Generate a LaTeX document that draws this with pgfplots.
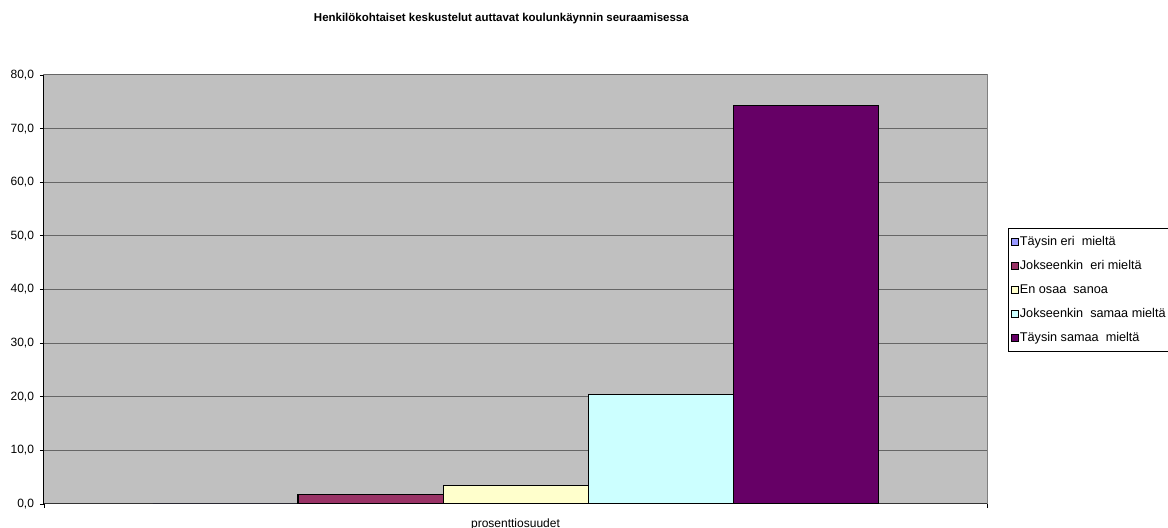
\documentclass[border=0pt]{standalone}
\usepackage{fontspec}
\setmainfont{Liberation Sans}
\usepackage{pgfplots}
\pgfplotsset{compat=1.18}
\definecolor{plotbg}{HTML}{C0C0C0}
\definecolor{cA}{HTML}{9999FF}
\definecolor{cB}{HTML}{993366}
\definecolor{cC}{HTML}{FFFFCC}
\definecolor{cD}{HTML}{CCFFFF}
\definecolor{cE}{HTML}{660066}
\newcommand{\chartfont}{\fontsize{9}{10}\selectfont}
\begin{document}
\begin{tikzpicture}
\begin{axis}[
    name=ax,
    scale only axis,
    width=707.25pt, height=321.75pt,
    ybar=0pt, bar width=108.75pt,
    legend image code/.code={\draw[#1,draw=black,line width=0.6pt] (0pt,-2.6pt) rectangle (5.2pt,2.6pt);},
    xmin=-1, xmax=1, ymin=0, ymax=80,
    ytick={0,10,...,80},
    xtick={-1,1}, xticklabels={},
    tick align=outside, tick pos=left,
    major tick length=3pt,
    axis x line*=bottom, axis y line*=left,
    x axis line style={black!80, line width=0.75pt},
    y axis line style={black, line width=0.75pt},
    every tick/.style={black, line width=0.6pt},
    axis background/.style={fill=plotbg, draw=black!50, line width=0.75pt},
    ymajorgrids, grid style={black!60, line width=0.75pt},
    yticklabel style={font=\chartfont, xshift=-1pt},
    /pgf/number format/.cd, fixed, fixed zerofill, precision=1, use comma, assume math mode=true,
    /pgfplots/.cd,
    title={Henkilökohtaiset keskustelut auttavat koulunkäynnin seuraamisessa},
    title style={font=\bfseries\fontsize{8.6}{10}\selectfont, at={(0.485,1)}, anchor=center, yshift=36.5pt},
    xlabel={prosenttiosuudet},
    xlabel style={font=\chartfont, at={(0.5,0)}, anchor=center, yshift=-15.5pt},
    legend style={at={(1.022,0.643)}, anchor=north west, draw=black, line width=0.6pt,
        font=\fontsize{9.5}{10}\selectfont, inner xsep=2pt, inner ysep=5pt, row sep=7.5pt,
        nodes={inner sep=1pt, text height=6.5pt, text depth=2pt}},
    legend cell align=left,
]
\addplot[fill=cA, draw=black, line width=0.75pt] coordinates {(0,0)};
\addplot[fill=cB, draw=black, line width=0.75pt] coordinates {(0,1.7)};
\addplot[fill=cC, draw=black, line width=0.75pt] coordinates {(0,3.4)};
\addplot[fill=cD, draw=black, line width=0.75pt] coordinates {(0,20.5)};
\addplot[fill=cE, draw=black, line width=0.75pt] coordinates {(0,74.4)};
\legend{Täysin eri\ \ mieltä, Jokseenkin\ \ eri mieltä, En osaa\ \ sanoa, Jokseenkin\ \ samaa mieltä, Täysin samaa\ \ mieltä}
\end{axis}
\pgfresetboundingbox
\path[use as bounding box] ([xshift=-33pt,yshift=-18pt]ax.south west) rectangle ([xshift=135.75pt,yshift=56.25pt]ax.north east);
\end{tikzpicture}
\end{document}
